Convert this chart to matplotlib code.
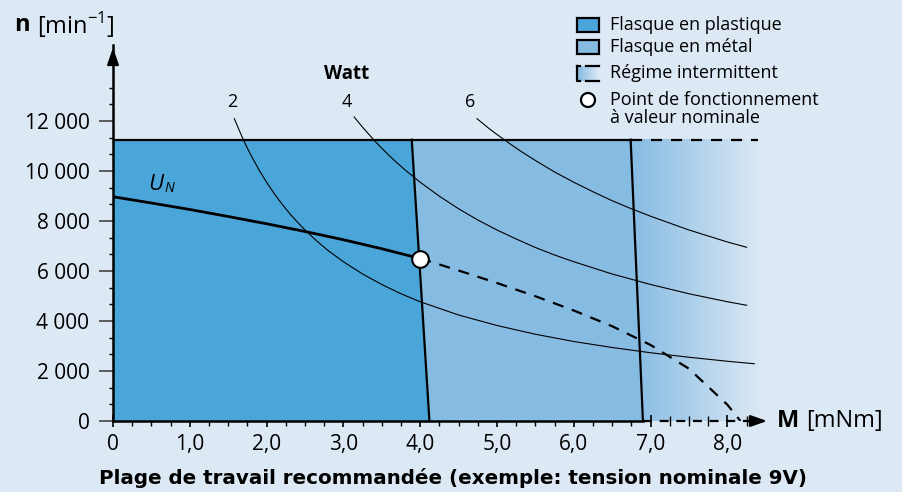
import matplotlib
matplotlib.use("Agg")
import matplotlib.pyplot as plt
import numpy as np
from matplotlib.patches import Polygon, Rectangle, Circle
from matplotlib.ticker import FixedLocator, FuncFormatter

plt.rcParams['font.family'] = ['Open Sans', 'DejaVu Sans']

# couleurs
bg = '#dce9f5'
c_plast = '#4aa5d9'
c_metal = '#86bbe2'

# Zones de travail (M en mNm, n en min-1)
n_max = 11250
plast_M = [0, 0, 3.89, 4.12]
plast_n = [0, n_max, n_max, 0]
metal_M = [3.89, 6.74, 6.90, 4.12]
metal_n = [n_max, n_max, 0, 0]
interm_M_end = 8.40

# Caracteristique a tension nominale (U_N)
un_M = [0, 0.5, 1.0, 1.5, 2.0, 2.5, 3.0, 3.5, 4.0]
un_n = [8970, 8720, 8460, 8180, 7890, 7580, 7250, 6890, 6500]
# prolongement intermittent (tirets)
un2_M = [4.0, 4.5, 5.0, 5.5, 6.0, 6.5, 7.0, 7.5, 8.0, 8.17]
un2_n = [6500, 6020, 5520, 4990, 4420, 3790, 3040, 2090, 650, 0]

# point de fonctionnement nominal
pt_M, pt_n = 4.0, 6500

# courbes de puissance constante (2, 4, 6 W)
w2_M = [1.58, 1.65, 1.7, 1.75, 1.8, 1.9, 2.0, 2.1, 2.2, 2.3, 2.4, 2.5, 2.65, 2.8, 3.0, 3.25, 3.5, 3.75,
        4.0, 4.5, 5.0, 5.5, 6.0, 6.5, 7.0, 7.5, 8.0, 8.35]
w2_n = [12090, 11580, 11230, 10910, 10610, 10050, 9550, 9090, 8680, 8300, 7960, 7640, 7210, 6820, 6370,
        5880, 5460, 5090, 4770, 4240, 3820, 3470, 3180, 2940, 2730, 2550, 2390, 2290]
w4_M = [3.14, 3.25, 3.4, 3.5, 3.65, 3.8, 4.0, 4.25, 4.5, 4.75, 5.0, 5.25, 5.5, 5.75, 6.0, 6.5, 7.0, 7.5, 8.0, 8.25]
w4_n = [12160, 11750, 11230, 10910, 10460, 10050, 9550, 8990, 8490, 8040, 7640, 7280, 6940, 6640, 6370,
        5880, 5460, 5090, 4770, 4630]
w6_M = [4.74, 4.9, 5.0, 5.15, 5.3, 5.5, 5.75, 6.0, 6.25, 6.5, 6.75, 7.0, 7.5, 8.0, 8.25]
w6_n = [12090, 11690, 11460, 11130, 10810, 10420, 9960, 9550, 9170, 8810, 8490, 8190, 7640, 7160, 6950]
watt_labels = ['2', '4', '6']

y_ticks = [0, 2000, 4000, 6000, 8000, 10000, 12000]
x_ticks = [0, 1, 2, 3, 4, 5, 6, 7, 8]

W, H = 903, 492
fig = plt.figure(figsize=(W / 100, H / 100), dpi=100, facecolor=bg)
x0, y0, x1, y1 = 113, 421, 770, 45
ax = fig.add_axes([x0 / W, (H - y0) / H, (x1 - x0) / W, (y0 - y1) / H])
ax.set_facecolor('none')
ax.set_xlim(0, (x1 - x0) / 76.8)
ax.set_ylim(0, (y0 - y1) * 40)

# degrade du regime intermittent
grad = np.zeros((1, 256, 4))
ca = np.array(matplotlib.colors.to_rgb(c_metal))
cb = np.array(matplotlib.colors.to_rgb(bg))
t = np.linspace(0, 1, 256)[:, None]
grad[0, :, :3] = ca * (1 - t) + cb * t
grad[0, :, 3] = 1
ax.imshow(grad, extent=[6.74, interm_M_end + 0.05, 0, n_max], aspect='auto', zorder=1)

ax.add_patch(Polygon(list(zip(metal_M, metal_n)), closed=True, fc=c_metal, ec='none', zorder=2))
ax.add_patch(Polygon(list(zip(plast_M, plast_n)), closed=True, fc=c_plast, ec='none', zorder=3))

# limites
ax.plot([0, metal_M[1]], [n_max, n_max], color='black', lw=1.6, zorder=5)
ax.plot([metal_M[1], interm_M_end], [n_max, n_max], color='black', lw=1.6, ls=(0, (5, 4)), zorder=5)
ax.plot(plast_M[2:], plast_n[2:], color='black', lw=1.6, zorder=5)
ax.plot(metal_M[1:3], metal_n[1:3], color='black', lw=1.6, zorder=5)

# courbes de puissance
for m, n in [(w2_M, w2_n), (w4_M, w4_n), (w6_M, w6_n)]:
    ax.plot(m, n, color='black', lw=0.8, zorder=4, clip_on=False)

ax.plot(un_M, un_n, color='black', lw=2.0, zorder=6)
ax.plot(un2_M, un2_n, color='black', lw=1.6, ls=(0, (5, 4)), zorder=6)
ax.plot([pt_M], [pt_n], 'o', ms=12, mfc='white', mec='black', mew=1.5, zorder=8)

# axes
for s in ['top', 'right', 'bottom']:
    ax.spines[s].set_visible(False)
ax.spines['left'].set_linewidth(1.8)
ax.spines['left'].set_zorder(7)
ax.plot([0, 6.9], [0, 0], color='black', lw=1.8, zorder=7, clip_on=False)
ax.plot([6.9, 8.31], [0, 0], color='black', lw=1.6, ls=(0, (4, 3.5)), zorder=7, clip_on=False)
xm = ax.get_xlim()[1]
ax.annotate('', xy=(xm, 0), xytext=(8.28, 0),
            arrowprops=dict(arrowstyle='-|>,head_length=1.0,head_width=0.35', color='black', lw=1.6),
            annotation_clip=False, zorder=7)
ym = ax.get_ylim()[1]
ax.annotate('', xy=(0, ym), xytext=(0, ym - 700),
            arrowprops=dict(arrowstyle='-|>,head_length=1.0,head_width=0.35', color='black', lw=1.6),
            annotation_clip=False, zorder=7)

ax.xaxis.set_major_locator(FixedLocator(x_ticks))
ax.xaxis.set_minor_locator(FixedLocator([i * 0.25 for i in range(34) if i % 4 != 0]))
ax.xaxis.set_major_formatter(FuncFormatter(lambda v, p: '0' if v == 0 else f'{v:.1f}'.replace('.', ',')))
ax.tick_params(axis='x', which='major', direction='inout', length=9, width=1.2, labelsize=15, pad=5)
ax.tick_params(axis='x', which='minor', direction='inout', length=7, width=1.0)
ax.yaxis.set_major_locator(FixedLocator(y_ticks))
ax.yaxis.set_minor_locator(FixedLocator([i * 2000 / 3 for i in range(22) if i % 3 != 0]))
ax.yaxis.set_major_formatter(FuncFormatter(lambda v, p: f'{int(v):,}'.replace(',', ' ')))
ax.tick_params(axis='y', which='major', direction='out', length=10, width=1.2, labelsize=15, pad=7, color='#444444')
ax.tick_params(axis='y', which='minor', direction='out', length=3, width=1.0)

# calque en pixels pour textes et legende
lay = fig.add_axes([0, 0, 1, 1], zorder=10)
lay.set_xlim(0, W)
lay.set_ylim(H, 0)
lay.axis('off')
lay.patch.set_alpha(0)

lay.text(14, 25, 'n', fontsize=17, fontweight='bold', va='center', ha='left')
lay.text(37, 25, r'[min$^{\mathregular{-1}}$]', fontsize=17, va='center', ha='left')
lay.text(777, 421, 'M', fontsize=17, fontweight='bold', va='center', ha='left')
lay.text(806, 421, '[mNm]', fontsize=17, va='center', ha='left')
lay.text(148, 185, 'U', fontsize=16, style='italic', va='center', ha='left')
lay.text(164, 189, 'N', fontsize=10, style='italic', va='center', ha='left')
lay.text(347, 74, 'Watt', fontsize=13.5, fontweight='bold', ha='center', va='center')
for lbl, xx in zip(watt_labels, [232, 347, 470]):
    lay.text(xx, 102, lbl, fontsize=13, ha='center', va='center')

lay.text(453, 478, 'Plage de travail recommandée (exemple: tension nominale 9V)',
         fontsize=14.3, fontweight='bold', family='DejaVu Sans', ha='center', va='center')

# legende
lay.add_patch(Rectangle((577, 18), 22, 14, fc=c_plast, ec='black', lw=1.6))
lay.add_patch(Rectangle((577, 40), 22, 14, fc=c_metal, ec='black', lw=1.6))
lay.imshow(grad, extent=[578, 599, 81, 66], aspect='auto', zorder=1)
lay.plot([577.5, 577.5, 580], [66, 81, 81], color='black', lw=1.6)
lay.plot([577.5, 580], [66, 66], color='black', lw=1.6)
lay.plot([586, 599], [66, 66], color='black', lw=1.6)
lay.plot([586, 599], [81, 81], color='black', lw=1.6)
lay.add_patch(Circle((588, 100), 7, fc='white', ec='black', lw=1.6))
leg_txt = [('Flasque en plastique', 25), ('Flasque en métal', 47), ('Régime intermittent', 73),
           ('Point de fonctionnement', 100), ('à valeur nominale', 118)]
for s, yy in leg_txt:
    lay.text(610, yy, s, fontsize=13, ha='left', va='center')
lay.set_xlim(0, W)
lay.set_ylim(H, 0)

fig.savefig('out.png', dpi=100, facecolor=bg)
